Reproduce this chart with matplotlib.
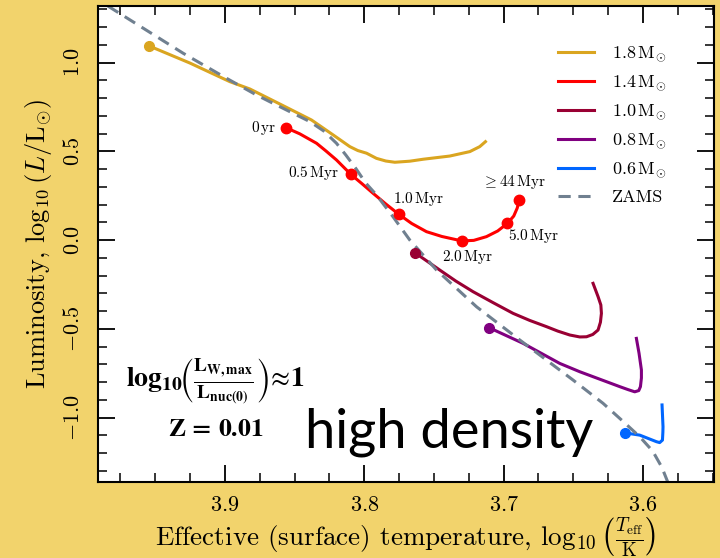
import matplotlib
matplotlib.use("Agg")
import matplotlib.pyplot as plt
from matplotlib.ticker import MultipleLocator

# evolutionary tracks, log10(Teff/K) vs log10(L/Lsun)
gold_T = [3.9543, 3.9251, 3.8964, 3.8821, 3.8605, 3.8378, 3.8223, 3.8161, 3.8103,
          3.8046, 3.7983, 3.7912, 3.7845, 3.7780, 3.7673, 3.7577, 3.7386, 3.7242,
          3.7171, 3.7130]
gold_L = [1.094, 0.998, 0.893, 0.852, 0.767, 0.677, 0.593, 0.559, 0.527,
          0.505, 0.490, 0.461, 0.446, 0.439, 0.445, 0.456, 0.474, 0.499,
          0.527, 0.555]

red_T = [3.8562, 3.8462, 3.8342, 3.8275, 3.8199, 3.8096, 3.8017, 3.7936, 3.7845,
         3.7752, 3.7659, 3.7553, 3.7443, 3.7300, 3.7214, 3.7123, 3.7042, 3.6972,
         3.6927, 3.6902, 3.6887]
red_L = [0.634, 0.599, 0.546, 0.503, 0.452, 0.371, 0.319, 0.264, 0.204,
         0.146, 0.094, 0.048, 0.021, -0.004, -0.001, 0.020, 0.052, 0.095,
         0.136, 0.181, 0.229]
red_age_idx = [0, 5, 9, 13, 17, 20]
red_age_labels = [r"$0\,\mathrm{yr}$", r"$0.5\,\mathrm{Myr}$", r"$1.0\,\mathrm{Myr}$",
                  r"$2.0\,\mathrm{Myr}$", r"$5.0\,\mathrm{Myr}$", r"$\geq 44\,\mathrm{Myr}$"]

dred_T = [3.7637, 3.7551, 3.7458, 3.7343, 3.7219, 3.7077, 3.6932, 3.6812, 3.6692,
          3.6611, 3.6525, 3.6453, 3.6405, 3.6360, 3.6322, 3.6305, 3.6298, 3.6302,
          3.6322, 3.6358]
dred_L = [-0.070, -0.117, -0.168, -0.230, -0.290, -0.351, -0.412, -0.452, -0.487,
          -0.512, -0.534, -0.545, -0.544, -0.531, -0.506, -0.462, -0.412, -0.365,
          -0.318, -0.243]

purple_T = [3.7106, 3.6860, 3.6597, 3.6453, 3.6166, 3.6109, 3.6059, 3.6030, 3.6018,
            3.6011, 3.6011, 3.6028, 3.6047]
purple_L = [-0.492, -0.581, -0.694, -0.741, -0.825, -0.841, -0.854, -0.847, -0.825,
            -0.776, -0.731, -0.637, -0.553]

blue_T = [3.6131, 3.6023, 3.5903, 3.5880, 3.5860, 3.5857, 3.5856, 3.5863]
blue_L = [-1.085, -1.098, -1.135, -1.140, -1.126, -1.081, -1.051, -0.928]

zams_T = [3.9839, 3.9299, 3.8988, 3.8773, 3.8677, 3.8390, 3.8290, 3.8199, 3.8132,
          3.8060, 3.7989, 3.7912, 3.7793, 3.7673, 3.7481, 3.7194, 3.6884, 3.6501,
          3.6286, 3.6145, 3.6023, 3.5930, 3.5865, 3.5822, 3.5793]
zams_L = [1.319, 1.053, 0.912, 0.818, 0.780, 0.668, 0.615, 0.546, 0.480,
          0.404, 0.322, 0.255, 0.132, 0.001, -0.168, -0.375, -0.562, -0.788,
          -0.919, -1.019, -1.107, -1.188, -1.278, -1.362, -1.419]

plt.rcParams["font.family"] = "serif"
plt.rcParams["font.serif"] = ["cmr10"]
plt.rcParams["mathtext.fontset"] = "cm"
plt.rcParams["axes.formatter.use_mathtext"] = True

fig = plt.figure(figsize=(7.2, 5.58), dpi=100, facecolor="#F2D36C")
ax = fig.add_axes([0.1361, 0.1362, 0.8556, 0.8530])
ax.set_facecolor("white")

lw = 2.2
ax.plot(gold_T, gold_L, color="#DAA520", lw=lw, label=r"$1.8\,\mathrm{M}_{\odot}$")
ax.plot(red_T, red_L, color="#FF0000", lw=lw, label=r"$1.4\,\mathrm{M}_{\odot}$")
ax.plot(dred_T, dred_L, color="#990033", lw=lw, label=r"$1.0\,\mathrm{M}_{\odot}$")
ax.plot(purple_T, purple_L, color="#800080", lw=lw, label=r"$0.8\,\mathrm{M}_{\odot}$")
ax.plot(blue_T, blue_L, color="#0066FF", lw=lw, label=r"$0.6\,\mathrm{M}_{\odot}$")
ax.plot(zams_T, zams_L, color="#708090", lw=lw, ls=(0, (4, 2.5)), label="ZAMS")

# starting points
ax.plot(gold_T[0], gold_L[0], "o", color="#DAA520", ms=7)
ax.plot(dred_T[0], dred_L[0], "o", color="#990033", ms=7)
ax.plot(purple_T[0], purple_L[0], "o", color="#800080", ms=7)
ax.plot(blue_T[0], blue_L[0], "o", color="#0066FF", ms=7)

# ages along the 1.4 Msun track
age_T = [red_T[i] for i in red_age_idx]
age_L = [red_L[i] for i in red_age_idx]
ax.plot(age_T, age_L, "o", color="#FF0000", ms=7.5)
offsets = [(-6.5, 0, "right"), (-8, 1, "right"), (14, 11, "center"),
           (4.5, -11.5, "center"), (19, -9, "center"), (-4, 12.5, "center")]
for t, l, txt, (dx, dy, ha) in zip(age_T, age_L, red_age_labels, offsets):
    ax.annotate(txt, (t, l), xytext=(dx, dy), textcoords="offset points",
                ha=ha, va="center", fontsize=11)

ax.set_xlim(3.991, 3.549)
ax.set_ylim(-1.362, 1.319)
ax.xaxis.set_major_locator(MultipleLocator(0.1))
ax.xaxis.set_minor_locator(MultipleLocator(0.025))
ax.yaxis.set_major_locator(MultipleLocator(0.5))
ax.yaxis.set_minor_locator(MultipleLocator(0.1))
ax.tick_params(which="both", direction="in", top=True, right=True, labelsize=16)
ax.tick_params(which="major", length=12, width=1.3)
ax.tick_params(which="minor", length=6.5, width=1.1)
ax.tick_params(axis="x", pad=10)
ax.tick_params(axis="y", pad=11)
plt.setp(ax.get_yticklabels(), rotation=90, va="center")
for s in ax.spines.values():
    s.set_linewidth(1.5)

ax.set_xlabel(r"Effective (surface) temperature, $\log_{10}\left(\frac{T_{\mathrm{eff}}}{\mathrm{K}}\right)$",
              fontsize=19.5, labelpad=0)
ax.set_ylabel(r"Luminosity, $\log_{10}(L/\mathrm{L}_{\odot})$", fontsize=19, labelpad=6)

# bold annotations (stix has bold digits)
ax.text(0.190, 0.212,
        r"$\mathbf{log_{10}}\!\left(\frac{\mathbf{L_{W,max}}}"
        r"{\mathbf{L_{nuc(0)}}}\right)\!\approx\!\mathbf{1}$",
        transform=ax.transAxes, ha="center", va="center", fontsize=20,
        math_fontfamily="stix")
ax.text(0.191, 0.111, r"$\mathbf{Z\,=\,0.01}$", transform=ax.transAxes,
        ha="center", va="center", fontsize=18.5, math_fontfamily="stix")
ax.text(0.336, 0.0735, "high density", transform=ax.transAxes, ha="left",
        va="baseline", fontsize=39, family="Lato")

ax.legend(loc="upper left", bbox_to_anchor=(0.7468, 0.918), frameon=False,
          fontsize=13, handlelength=2.0, handletextpad=1.0, labelspacing=0.55,
          borderpad=0, borderaxespad=0)

fig.savefig("out.png", dpi=100, facecolor=fig.get_facecolor())
